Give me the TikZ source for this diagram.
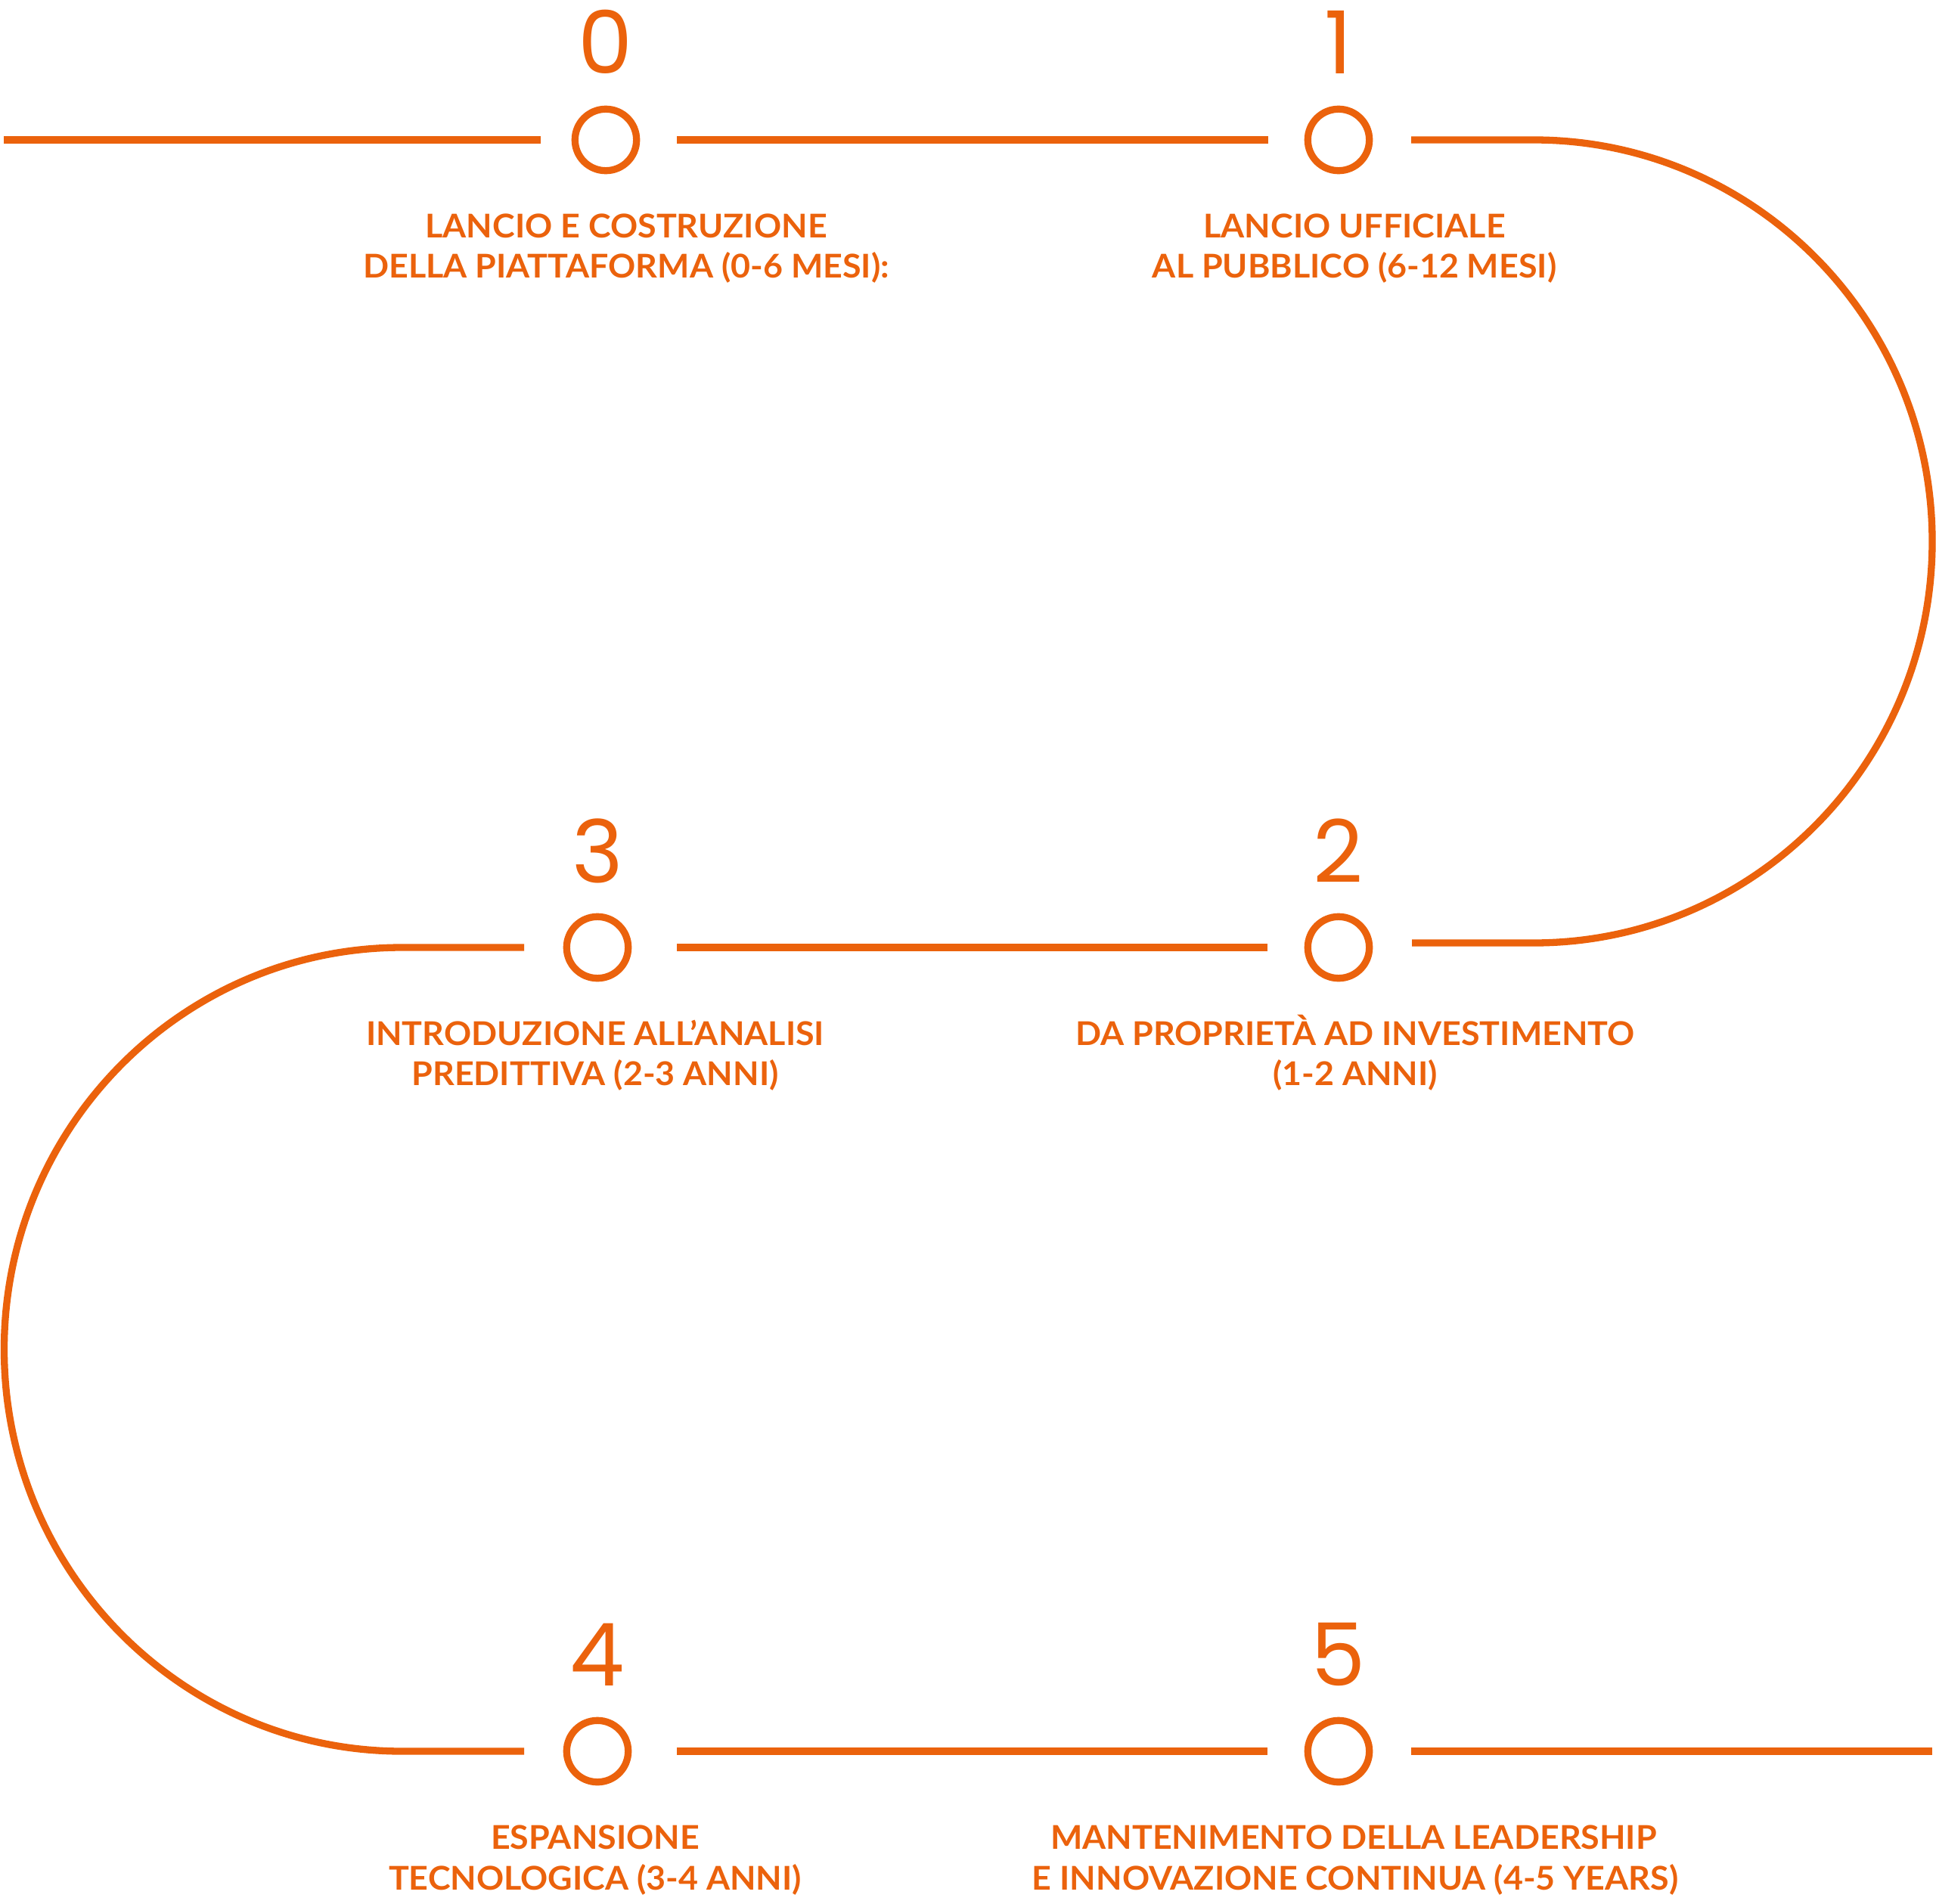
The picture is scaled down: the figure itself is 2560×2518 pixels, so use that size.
\documentclass[tikz,border=0pt]{standalone}
\usepackage{fontspec}
\newfontfamily\labfont{Lato}[FakeStretch=1.035, BoldFeatures={FakeStretch=1.035}]
\newfontfamily\numfont{Poppins}
\definecolor{orng}{RGB}{235,98,12}
\begin{document}
\begin{tikzpicture}[x=1pt,y=1pt,
  track/.style={draw=orng, line width=9.3pt},
  stage/.style={circle, draw=orng, line width=9.3pt, minimum size=81.4pt, inner sep=0pt},
  num/.style={text=orng, font=\numfont\fontsize{115}{115}\selectfont, anchor=base, inner sep=0pt},
  lab/.style={text=orng, font=\labfont\bfseries\fontsize{43.3}{50}\selectfont, anchor=base, inner sep=0pt}]
\useasboundingbox (0,0) rectangle (2560,-2518);

% stages
\node[stage] (c0) at (801,-185) {};
\node[stage] (c1) at (1770,-185) {};
\node[stage] (c2) at (1770,-1253) {};
\node[stage] (c3) at (790,-1253) {};
\node[stage] (c4) at (790,-2316) {};
\node[stage] (c5) at (1770,-2316) {};

% numbers
\node[num] (n0) at (801,-98) {0};
\node[num] (n1) at (1770,-98) {1};
\node[num] (n2) at (1770,-1167) {2};
\node[num] (n3) at (790,-1167) {3};
\node[num] (n4) at (790,-2229) {4};
\node[num] (n5) at (1770,-2229) {5};

% labels
\node[lab] (l0a) at (828,-314) {LANCIO E COSTRUZIONE};
\node[lab] (l0b) at (828,-367.5) {DELLA PIATTAFORMA (0-6 MESI):};
\node[lab] (l1a) at (1791,-314) {LANCIO UFFICIALE};
\node[lab] (l1b) at (1791,-367.5) {AL PUBBLICO (6-12 MESI)};
\node[lab] (l2a) at (1792,-1382) {DA PROPRIETÀ AD INVESTIMENTO};
\node[lab] (l2b) at (1792,-1435.5) {(1-2 ANNI)};
\node[lab] (l3a) at (787,-1382) {INTRODUZIONE ALL’ANALISI};
\node[lab] (l3b) at (787,-1435.5) {PREDITTIVA (2-3 ANNI)};
\node[lab] (l4a) at (787,-2445) {ESPANSIONE};
\node[lab] (l4b) at (787,-2499) {TECNOLOGICA (3-4 ANNI)};
\node[lab] (l5a) at (1790,-2445) {MANTENIMENTO DELLA LEADERSHIP};
\node[lab] (l5b) at (1792,-2499) {E INNOVAZIONE CONTINUA (4-5 YEARS)};

% free ends and bend points
\coordinate (start) at (5,-185);
\coordinate (r1) at (2028,-185);
\coordinate (r2) at (2028,-1247);
\coordinate (l1) at (532,-1253);
\coordinate (l2) at (532,-2316);
\coordinate (finish) at (2555,-2316);

% row 1
\draw[track, shorten >=86pt] (start) -- (c0.center);
\draw[track, shorten <=94pt, shorten >=93pt] (c0.center) -- (c1.center);
\draw[track] ([xshift=96pt]c1.center) -- (r1)
  arc[start angle=90, end angle=-90, x radius=527pt, y radius=531pt]
  -- ([xshift=97pt,yshift=6pt]c2.center);
% row 2
\draw[track, shorten <=94pt, shorten >=105pt] (c2.center) -- (c3.center);
\draw[track] ([xshift=-97pt]c3.center) -- (l1)
  arc[start angle=90, end angle=270, x radius=526.5pt, y radius=531.5pt]
  -- ([xshift=-97pt]c4.center);
% row 3
\draw[track, shorten <=105pt, shorten >=94pt] (c4.center) -- (c5.center);
\draw[track, shorten <=96pt] (c5.center) -- (finish);
\end{tikzpicture}
\end{document}
